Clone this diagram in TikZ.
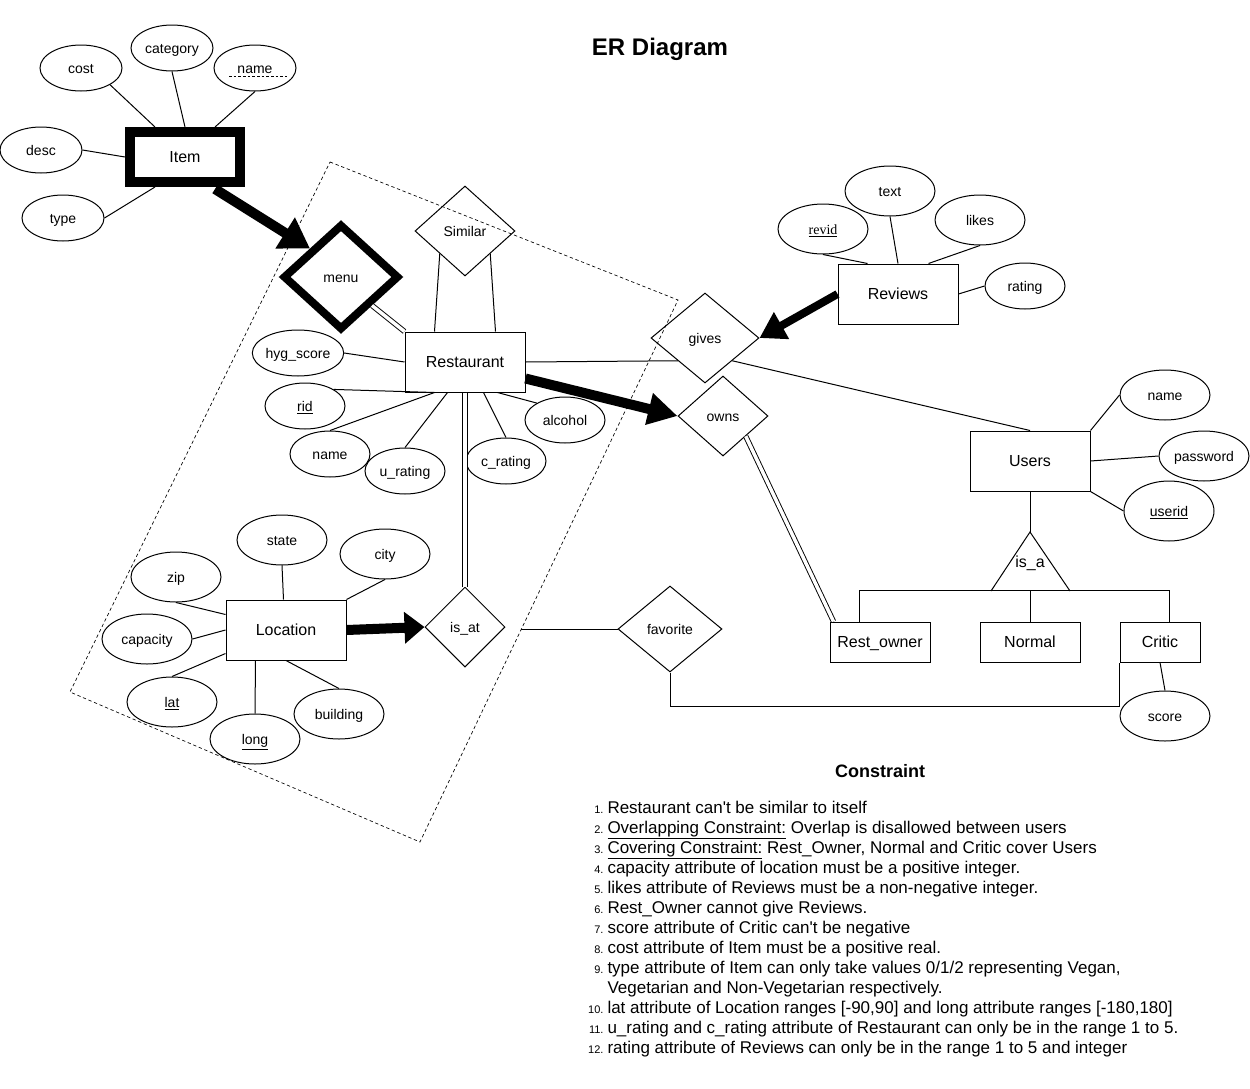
\documentclass[tikz,border=0pt]{standalone}
\usepackage{fontspec}
\setmainfont{Liberation Sans}[Ligatures=TeXOff]
\newfontfamily\serifrm{Liberation Serif}
\usetikzlibrary{shapes.geometric,arrows.meta,calc}
\begin{document}
\begin{tikzpicture}[x=0.75pt,y=-0.75pt,line width=0.75pt,
  lbl/.style={text height=0.84em,text depth=0pt},
  attrS/.style={lbl,draw,ellipse,inner sep=0pt,minimum width=61.5pt,minimum height=34.5pt,font=\fontsize{10.5}{12}\selectfont},
  attrM/.style={lbl,draw,ellipse,inner sep=0pt,minimum width=60pt,minimum height=34.5pt,font=\fontsize{10.5}{12}\selectfont},
  attrL/.style={lbl,draw,ellipse,inner sep=0pt,minimum width=67.5pt,minimum height=37.5pt,font=\fontsize{10.5}{12}\selectfont},
  ent/.style={lbl,draw,rectangle,inner sep=0pt,minimum width=90pt,minimum height=45pt,font=\fontsize{12}{14}\selectfont},
  subent/.style={lbl,draw,rectangle,inner sep=0pt,minimum width=75pt,minimum height=30pt,font=\fontsize{12}{14}\selectfont},
  rel/.style={lbl,draw,diamond,inner sep=0pt,font=\fontsize{10.5}{12}\selectfont},
  dbl/.style={double,double distance=2.6pt,line width=0.7pt},
  bigarrow/.style={line width=7.5pt,-{Triangle[length=22pt,width=26pt]}},
  litem/.style={anchor=base west,inner sep=0pt,font=\fontsize{12.75}{15}\selectfont},
  lnum/.style={anchor=base east,inner sep=0pt,font=\fontsize{8.25}{10}\selectfont}
]
\useasboundingbox (0,0) rectangle (1250,1089);

% Title
\node[lbl,font=\fontsize{18}{22}\selectfont\bfseries] (title) at (660,50) {ER Diagram};

% Aggregation box
\draw[dashed,line width=0.5pt,dash pattern=on 2.5pt off 2pt] (330,162) -- (678,300) -- (420,842) -- (70,692) -- cycle;
\coordinate (aggr) at (521,629);

% Item
\node[lbl,draw,rectangle,line width=7.5pt,inner sep=0pt,minimum width=82.5pt,minimum height=37.5pt,font=\fontsize{12}{14}\selectfont] (item) at (185,157) {Item};
\node[attrS] (cost) at (81,68) {cost};
\node[attrS] (category) at (172,48) {category};
\node[attrS] (iname) at (255,68) {name};
\draw[dashed,line width=0.6pt,dash pattern=on 2pt off 1.5pt] ($(iname.center)+(-26,8)$) -- ($(iname.center)+(32,8)$);
\node[attrS] (desc) at (41,150) {desc};
\node[attrS] (type) at (63,218) {type};
\draw (cost.-30) -- ($(item.north west)+(30,0)$);
\draw (category.south) -- ($(item.north west)+(60,0)$);
\draw (iname.south) -- ($(item.north east)+(-30,0)$);
\draw (desc.east) -- (item.west);
\draw (type.east) -- ($(item.south west)+(30,0)$);

% menu
\node[lbl,draw,diamond,line width=6pt,inner sep=0pt,minimum width=87pt,minimum height=79.5pt,font=\fontsize{10.5}{12}\selectfont] (menu) at (341,277) {menu};
\draw[bigarrow] ($(item.south east)+(-30,2)$) -- (menu.north west);

% Restaurant
\node[ent] (rest) at (465,362) {Restaurant};
\node[rel,minimum width=75pt,minimum height=67.5pt] (sim) at (465,231) {Similar};
\draw (sim.south west) -- ($(rest.north west)+(30,0)$);
\draw (sim.south east) -- ($(rest.north east)+(-30,0)$);
\draw[dbl] (menu.south east) -- (rest.north west);

\node[attrM] (hyg) at (298,353) {hyg\_score};
\node[attrM] (rid) at (305,406) {\underline{rid}};
\node[attrM] (rname) at (330,454) {name};
\node[attrM] (urat) at (405,471) {u\_rating};
\node[attrM] (crat) at (506,461) {c\_rating};
\node[attrM] (alc) at (565,420) {alcohol};
\draw (hyg.east) -- (rest.west);
\draw (rid.30) -- ($(rest.south west)+(30,0)$);
\draw (rname.north) -- ($(rest.south west)+(30,0)$);
\draw (urat.north) -- ($(rest.south west)+(43,0)$);
\draw (crat.north) -- ($(rest.south west)+(79,0)$);
\draw (alc.149) -- ($(rest.south east)+(-28,0)$);

% gives / owns
\node[rel,minimum width=81pt,minimum height=67.5pt] (gives) at (705,338) {gives};
\node[rel,minimum width=67.5pt,minimum height=60pt] (owns) at (723,416) {owns};
\draw (rest.east) -- (gives.south west);
\draw[bigarrow,-{Triangle[length=22pt,width=23pt]}] ($(rest.south east)+(0,-14)$) -- (owns.west);

% Reviews
\node[ent] (reviews) at (898,294) {Reviews};
\node[attrL] (revid) at (823,229) {\serifrm\underline{revid}};
\node[attrL] (text) at (890,191) {text};
\node[attrL] (likes) at (980,220) {likes};
\node[attrM] (rating) at (1025,286) {rating};
\draw (revid.south) -- ($(reviews.north west)+(30,0)$);
\draw (text.south) -- (reviews.north);
\draw (likes.south) -- ($(reviews.north east)+(-30,0)$);
\draw (rating.west) -- (reviews.east);
\draw[line width=6pt,-{Triangle[length=19pt,width=22pt]}] (reviews.west) -- (gives.east);

% Users
\node[ent] (users) at (1030,461) {Users};
\node[attrL] (uname) at (1165,395) {name};
\node[attrL] (pw) at (1204,456) {password};
\node[attrL,minimum height=45pt] (userid) at (1169,511) {\underline{userid}};
\draw (uname.west) -- (users.north east);
\draw (pw.west) -- (users.east);
\draw (userid.west) -- (users.south east);
\draw (gives.south east) -- (users.north);

% is_a
\coordinate (isatop) at (1030,532);
\coordinate (isal) at (991,591);
\coordinate (isar) at (1070,591);
\draw (isal) -- (isatop) -- (isar);
\node[lbl,font=\fontsize{12}{14}\selectfont,inner sep=0pt] (isa) at (1030,562) {is\_a};
\draw (users.south) -- (isatop);

\node[subent] (rowner) at (880,642) {Rest\_owner};
\node[subent] (normal) at (1030,642) {Normal};
\node[subent,minimum width=60pt] (critic) at (1160,642) {Critic};
\draw ($(rowner.north west)+(30,0)$) -- ++(0,-31) -| ($(critic.north west)+(50,0)$);
\draw (normal.north) -- ++(0,-31);
\node[attrL] (score) at (1165,716) {score};
\draw (critic.south) -- (score.north);
\draw[dbl] (owns.south east) -- ($(rowner.north west)+(4,0)$);

% favorite
\node[rel,minimum width=78pt,minimum height=64.5pt] (fav) at (670,629) {favorite};
\draw (aggr) -- (fav.west);
\draw (fav.south) -- ++(0,34) -| (critic.south west);

% Location
\node[ent] (loc) at (286,630) {Location};
\node[attrL] (state) at (282,540) {state};
\node[attrL] (city) at (385,554) {city};
\node[attrL] (zip) at (176,577) {zip};
\node[attrL] (cap) at (147,639) {capacity};
\node[attrL] (lat) at (172,702) {\underline{lat}};
\node[attrL] (long) at (255,739) {\underline{long}};
\node[attrL] (bld) at (339,714) {building};
\draw (state.south) -- ($(loc.north west)+(58,0)$);
\draw (city.south) -- (loc.north east);
\draw (zip.south) -- ($(loc.north west)+(0,15)$);
\draw (cap.east) -- (loc.west);
\draw (lat.north) -- ($(loc.south west)+(0,-7)$);
\draw (long.north) -- ($(loc.south west)+(30,0)$);
\draw (bld.north) -- (loc.south);

% is_at
\node[rel,minimum width=60pt,minimum height=60pt] (isat) at (465,627) {is\_at};
\draw[bigarrow,-{Triangle[length=15pt,width=23pt]}] (loc.east) -- (isat.west);
\draw[dbl] (rest.south) -- (isat.north);

% Constraints
\node[lbl,font=\fontsize{13.5}{16}\selectfont\bfseries] (ctitle) at (880,772) {Constraint};
\node[lnum] (n1) at (604,813) {1.};
\node[litem] (c1) at (607,813) {Restaurant can't be similar to itself};
\node[lnum] (n2) at (604,833) {2.};
\node[litem] (c2) at (607,833) {\underline{Overlapping Constraint:} Overlap is disallowed between users};
\node[lnum] (n3) at (604,853) {3.};
\node[litem] (c3) at (607,853) {\underline{Covering Constraint:} Rest\_Owner, Normal and Critic cover Users};
\node[lnum] (n4) at (604,873) {4.};
\node[litem] (c4) at (607,873) {capacity attribute of location must be a positive integer.};
\node[lnum] (n5) at (604,893) {5.};
\node[litem] (c5) at (607,893) {likes attribute of Reviews must be a non-negative integer.};
\node[lnum] (n6) at (604,913) {6.};
\node[litem] (c6) at (607,913) {Rest\_Owner cannot give Reviews.};
\node[lnum] (n7) at (604,933) {7.};
\node[litem] (c7) at (607,933) {score attribute of Critic can't be negative};
\node[lnum] (n8) at (604,953) {8.};
\node[litem] (c8) at (607,953) {cost attribute of Item must be a positive real.};
\node[lnum] (n9) at (604,973) {9.};
\node[litem] (c9) at (607,973) {type attribute of Item can only take values 0/1/2 representing Vegan,};
\node[litem] (c9b) at (607,993) {Vegetarian and Non-Vegetarian respectively.};
\node[lnum] (n10) at (604,1013) {10.};
\node[litem] (c10) at (607,1013) {lat attribute of Location ranges [-90,90] and long attribute ranges [-180,180]};
\node[lnum] (n11) at (604,1033) {11.};
\node[litem] (c11) at (607,1033) {u\_rating and c\_rating attribute of Restaurant can only be in the range 1 to 5.};
\node[lnum] (n12) at (604,1053) {12.};
\node[litem] (c12) at (607,1053) {rating attribute of Reviews can only be in the range 1 to 5 and integer};
\end{tikzpicture}
\end{document}
